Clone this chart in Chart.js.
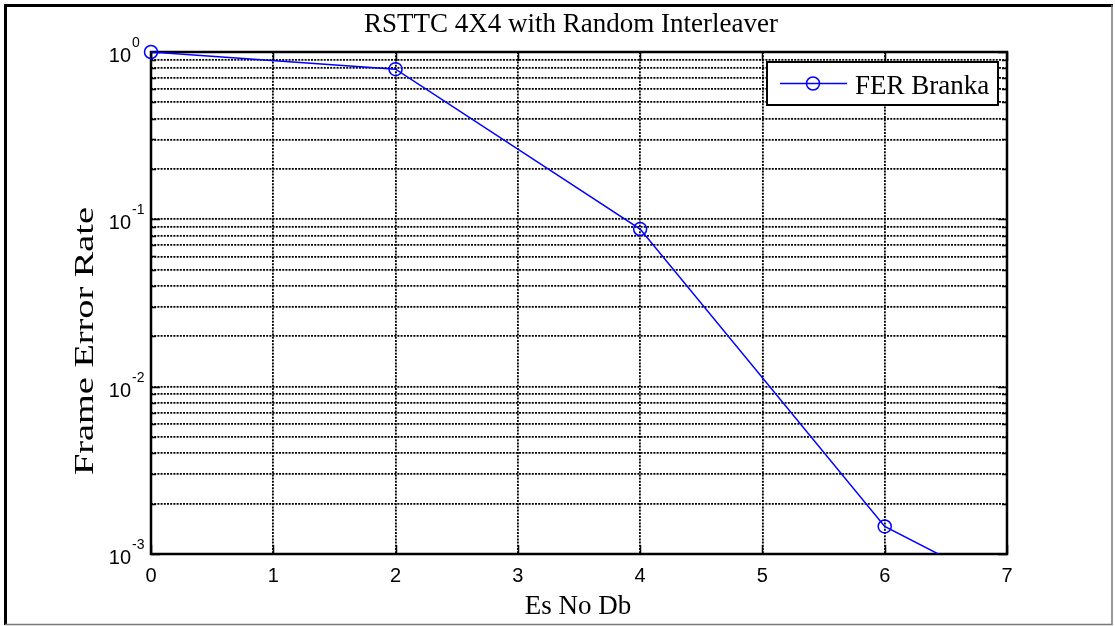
<!DOCTYPE html>
<html>
<head>
<meta charset="utf-8">
<script src="https://cdn.jsdelivr.net/npm/chart.js@4/dist/chart.umd.min.js"></script>
<style>
  html, body { margin: 0; padding: 0; background: #fff; }
  canvas { display: block; }
</style>
</head>
<body>
<canvas id="c" width="1115" height="626"></canvas>
<script>
// ---- data ----
const chartTitle = 'RSTTC 4X4 with Random Interleaver';
const xAxisTitle = 'Es No Db';
const yAxisTitle = 'Frame Error Rate';
const seriesLabel = 'FER Branka';
const esNoDb = [0, 2, 4, 6, 8];
const ferBranka = [1.0, 0.79, 0.0875, 0.00146, 0.00026];
const xTickLabels = ['0', '1', '2', '3', '4', '5', '6', '7'];
const yDecadeExponents = [0, -1, -2, -3];
const yMinorSignificands = [1, 2, 3, 4, 5, 6, 7, 8, 9];

const SERIF = '"Liberation Serif", "Times New Roman", serif';
const SANS = '"Liberation Sans", Arial, sans-serif';
const BLUE = '#0000ff';

const points = esNoDb.map((x, i) => ({ x: x, y: ferBranka[i] }));

const decorPlugin = {
  id: 'decor',
  beforeDatasetsDraw(chart) {
    const ctx = chart.ctx;
    const a = chart.chartArea;
    const xs = chart.scales.x, ys = chart.scales.y;
    ctx.save();
    ctx.strokeStyle = '#000';
    ctx.lineWidth = 1.5;
    ctx.beginPath();
    xTickLabels.forEach(t => {
      const px = Math.round(xs.getPixelForValue(Number(t))) + 0.5;
      ctx.moveTo(px, a.bottom); ctx.lineTo(px, a.bottom - 9);
      ctx.moveTo(px, a.top); ctx.lineTo(px, a.top + 9);
    });
    yDecadeExponents.forEach(e => {
      yMinorSignificands.forEach(s => {
        const v = s * Math.pow(10, e);
        if (v > 1.0000001 || v < 0.000999) return;
        const py = Math.round(ys.getPixelForValue(v)) + 0.5;
        const len = s === 1 ? 9 : 5;
        ctx.moveTo(a.left, py); ctx.lineTo(a.left + len, py);
        ctx.moveTo(a.right, py); ctx.lineTo(a.right - len, py);
      });
    });
    ctx.stroke();
    ctx.lineWidth = 2.5;
    ctx.strokeRect(a.left, a.top, a.right - a.left, a.bottom - a.top);
    ctx.restore();
  },
  afterDraw(chart) {
    const ctx = chart.ctx;
    const xs = chart.scales.x, ys = chart.scales.y;
    ctx.save();
    ctx.fillStyle = '#000';
    ctx.font = '27px ' + SERIF;
    ctx.textAlign = 'center';
    ctx.textBaseline = 'alphabetic';
    ctx.fillText(chartTitle, 571, 32);
    ctx.fillText(xAxisTitle, 578, 614);
    ctx.font = '20px ' + SANS;
    xTickLabels.forEach(t => {
      ctx.fillText(t, xs.getPixelForValue(Number(t)), 582);
    });
    yDecadeExponents.forEach(e => {
      const py = ys.getPixelForValue(Math.pow(10, e));
      ctx.font = '20px ' + SANS;
      ctx.textAlign = 'right';
      ctx.fillText('10', 131, py + 10);
      ctx.font = '14px ' + SANS;
      ctx.textAlign = 'left';
      ctx.fillText(String(e), 132, py - 5);
    });
    ctx.save();
    ctx.font = '28px ' + SERIF;
    ctx.translate(93, 341);
    ctx.rotate(-Math.PI / 2);
    const w = ctx.measureText(yAxisTitle).width;
    ctx.scale(268 / w, 1);
    ctx.textAlign = 'center';
    ctx.fillText(yAxisTitle, 0, 0);
    ctx.restore();
    // legend
    const lx = 767, ly = 62, lw = 231, lh = 43;
    ctx.fillStyle = '#fff';
    ctx.fillRect(lx, ly, lw, lh);
    ctx.strokeStyle = '#000';
    ctx.lineWidth = 2;
    ctx.strokeRect(lx, ly, lw, lh);
    const ds = chart.data.datasets[0];
    ctx.strokeStyle = ds.borderColor;
    ctx.lineWidth = 1.5;
    ctx.beginPath();
    ctx.moveTo(780, 83.5); ctx.lineTo(847, 83.5);
    ctx.stroke();
    ctx.beginPath();
    ctx.arc(813, 83.5, 6.5, 0, Math.PI * 2);
    ctx.stroke();
    ctx.fillStyle = '#000';
    ctx.font = '27px ' + SERIF;
    ctx.textAlign = 'left';
    ctx.fillText(ds.label, 855, 94);
    // outer figure border
    ctx.strokeStyle = '#000';
    ctx.lineWidth = 3;
    ctx.beginPath();
    ctx.moveTo(5.5, 625); ctx.lineTo(5.5, 5.5); ctx.lineTo(1113, 5.5);
    ctx.stroke();
    ctx.strokeStyle = '#777';
    ctx.lineWidth = 1.5;
    ctx.beginPath();
    ctx.moveTo(1112, 5); ctx.lineTo(1112, 624.5); ctx.lineTo(5, 624.5);
    ctx.stroke();
    ctx.restore();
  }
};

new Chart(document.getElementById('c'), {
  type: 'line',
  data: {
    datasets: [{
      label: seriesLabel,
      data: points,
      borderColor: BLUE,
      borderWidth: 1.5,
      pointRadius: 6.5,
      pointBorderWidth: 1.5,
      pointBorderColor: BLUE,
      pointBackgroundColor: 'rgba(0,0,0,0)',
      pointStyle: 'circle',
      tension: 0,
      fill: false,
      clip: { left: 12, top: 12, right: 0, bottom: 0 }
    }]
  },
  options: {
    responsive: false,
    animation: false,
    events: [],
    layout: { padding: { left: 151, top: 52, right: 108, bottom: 72 } },
    plugins: { legend: { display: false }, title: { display: false }, tooltip: { enabled: false } },
    scales: {
      x: {
        type: 'linear',
        min: 0, max: 7,
        ticks: { display: false, stepSize: 1 },
        grid: {
          drawTicks: false,
          color: ctx => (ctx.tick && (ctx.tick.value === 0 || ctx.tick.value === 7)) ? 'rgba(0,0,0,0)' : '#000',
          lineWidth: 1.8
        },
        border: { display: false, dash: [2, 1.2] }
      },
      y: {
        type: 'logarithmic',
        min: 0.001, max: 1,
        afterBuildTicks: scale => {
          const t = [];
          yDecadeExponents.forEach(e => {
            yMinorSignificands.forEach(s => {
              const v = s * Math.pow(10, e);
              if (v <= 1.0000001 && v >= 0.000999) t.push({ value: v });
            });
          });
          t.sort((p, q) => p.value - q.value);
          scale.ticks = t;
        },
        ticks: { display: false },
        grid: {
          drawTicks: false,
          color: ctx => (ctx.tick && (Math.abs(ctx.tick.value - 1) < 1e-9 || Math.abs(ctx.tick.value - 0.001) < 1e-9)) ? 'rgba(0,0,0,0)' : '#000',
          lineWidth: 1.8
        },
        border: { display: false, dash: [2, 1.2] }
      }
    }
  },
  plugins: [decorPlugin]
});
</script>
</body>
</html>
